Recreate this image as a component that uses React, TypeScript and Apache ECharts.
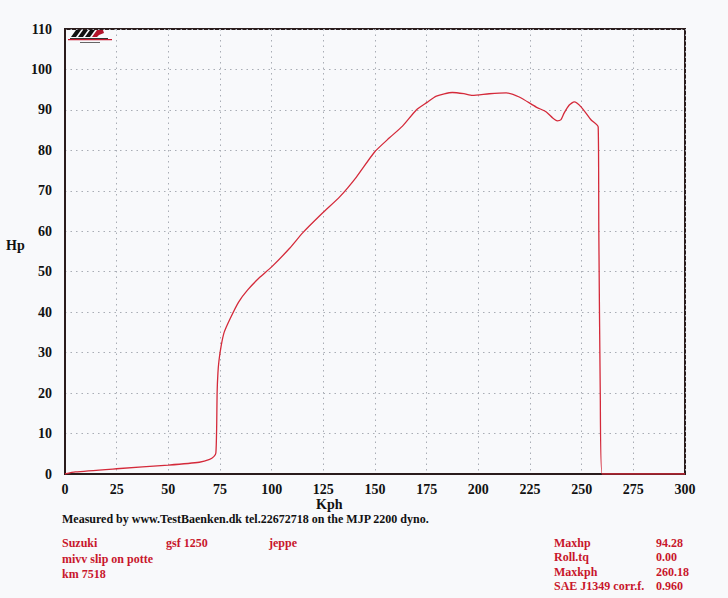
import React, { useEffect, useRef } from "react";
import * as echarts from "echarts";

const kph = [0, 5, 25, 50, 65, 70, 72, 73, 73.4, 73.6, 74, 74.5, 75.5, 77, 80, 84, 88.4, 94, 100, 108.7, 115, 124.6, 132.9, 141, 149.8, 157, 163.3, 170, 175, 179.7, 187.4, 193, 197.1, 205.3, 213.5, 219.8, 228, 232.9, 236, 238.2, 240, 241.5, 244, 246.4, 249.8, 254.6, 258, 258.3, 259, 259.9, 300];
const hp = [0, 0.5, 1.3, 2.2, 2.9, 3.6, 4.3, 5.2, 12, 20, 25, 28, 31.5, 35, 38.5, 42.5, 45.5, 48.5, 51.2, 55.8, 59.6, 64.5, 68.5, 73.4, 79.6, 83.1, 86, 90, 91.8, 93.4, 94.3, 94, 93.6, 94, 94.2, 93.2, 90.7, 89.5, 88, 87.3, 87.6, 89.2, 91.2, 92, 90.7, 87.5, 85.8, 60, 20, 0, 0];

const infoLeft = [
  ["Suzuki", "gsf 1250", "jeppe"],
  ["mivv slip on potte", "", ""],
  ["km 7518", "", ""],
];
const infoRightLabels = ["Maxhp", "Roll.tq", "Maxkph", "SAE J1349 corr.f."];
const infoRightValues = ["94.28", "0.00", "260.18", "0.960"];
const footer = "Measured by www.TestBaenken.dk tel.22672718 on the MJP 2200 dyno.";

const RED = "#c8162c";
const FONT = "'Liberation Serif', 'DejaVu Serif', serif";

export default function App() {
  const ref = useRef<HTMLDivElement>(null);
  useEffect(() => {
    const chart = echarts.init(ref.current!, null, { renderer: "svg" });
    const redText: any[] = [];
    const leftXs = [62, 166, 269];
    const leftYs = [544, 560, 575];
    infoLeft.forEach((row, i) =>
      row.forEach((t, j) => {
        if (!t) return;
        redText.push({
          type: "text",
          left: leftXs[j],
          top: leftYs[i] - 7,
          style: { text: t, fill: RED, font: `bold 12px ${FONT}` },
        });
      })
    );
    const rightYs = [544, 558, 573, 587];
    infoRightLabels.forEach((t, i) => {
      redText.push({
        type: "text",
        left: 554,
        top: rightYs[i] - 7,
        style: { text: t, fill: RED, font: `bold 12px ${FONT}` },
      });
      redText.push({
        type: "text",
        left: 656,
        top: rightYs[i] - 7,
        style: { text: infoRightValues[i], fill: RED, font: `bold 12px ${FONT}` },
      });
    });

    chart.setOption({
      animation: false,
      backgroundColor: "#f8f9fb",
      grid: {
        left: 65,
        right: 43,
        top: 29,
        bottom: 124,
        show: true,
        borderColor: "#2a1c1c",
        borderWidth: 2,
        backgroundColor: "transparent",
      },
      xAxis: {
        type: "value",
        min: 0,
        max: 300,
        interval: 25,
        axisLine: { show: true, lineStyle: { color: "#2a1c1c", width: 2 } },
        axisTick: { show: false },
        axisLabel: {
          margin: 8,
          color: "#111",
          fontFamily: FONT,
          fontWeight: "bold",
          fontSize: 14,
        },
        splitLine: { show: true, lineStyle: { color: "#a9adb5", width: 1, type: [1.5, 4] } },
      },
      yAxis: {
        type: "value",
        min: 0,
        max: 110,
        interval: 10,
        axisLine: { show: true, lineStyle: { color: "#2a1c1c", width: 2 } },
        axisTick: { show: false },
        axisLabel: {
          margin: 13,
          color: "#111",
          fontFamily: FONT,
          fontWeight: "bold",
          fontSize: 14,
        },
        splitLine: { show: true, lineStyle: { color: "#a9adb5", width: 1, type: [1.5, 4] } },
      },
      series: [
        {
          type: "line",
          data: kph.map((x, i) => [x, hp[i]]),
          showSymbol: false,
          smooth: 0.2,
          lineStyle: { color: "#d42a3a", width: 1.3 },
        },
      ],
      graphic: [
        {
          type: "text",
          left: 6,
          top: 238,
          style: { text: "Hp", fill: "#111", font: `bold 14px ${FONT}` },
        },
        {
          type: "text",
          left: 316,
          top: 497,
          style: { text: "Kph", fill: "#111", font: `bold 14px ${FONT}` },
        },
        {
          type: "text",
          left: 62,
          top: 513,
          style: { text: footer, fill: "#111", font: `bold 12px ${FONT}` },
        },
        ...redText,
        {
          type: "group",
          left: 68,
          top: 30,
          children: [
            { type: "polygon", shape: { points: [[8, 0], [13, 0], [8, 7], [3, 7]] }, style: { fill: "#111" } },
            { type: "polygon", shape: { points: [[15, 0], [20, 0], [15, 7], [10, 7]] }, style: { fill: "#111" } },
            { type: "polygon", shape: { points: [[22, 0], [27, 0], [22, 7], [17, 7]] }, style: { fill: "#111" } },
            { type: "polygon", shape: { points: [[29, 0], [35, 0], [36, 3], [31, 5], [29, 7], [24, 7]] }, style: { fill: "#b3132a" } },
            { type: "rect", shape: { x: 0, y: 9, width: 44, height: 1.2 }, style: { fill: RED } },
            { type: "rect", shape: { x: 2, y: 8, width: 38, height: 1 }, style: { fill: "#333" } },
            { type: "rect", shape: { x: 12, y: 12, width: 20, height: 1 }, style: { fill: "#666" } },
          ],
        },
      ],
    });
    return () => chart.dispose();
  }, []);
  return (
    <div
      ref={ref}
      style={{ position: "fixed", left: 0, top: 0, width: 728, height: 598 }}
    />
  );
}
